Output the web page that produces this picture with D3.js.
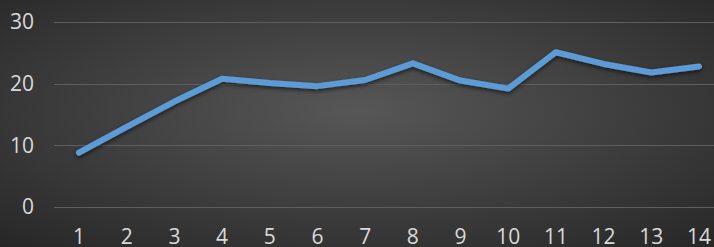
<!DOCTYPE html>
<html>
<head>
<meta charset="utf-8">
<script src="https://cdn.jsdelivr.net/npm/d3@7"></script>
<style>
  html, body { margin: 0; padding: 0; background: #333; }
  svg { display: block; }
</style>
</head>
<body>
<div id="chart"></div>
<script>
var width = 714, height = 247;

var categories = [1, 2, 3, 4, 5, 6, 7, 8, 9, 10, 11, 12, 13, 14];
var values = [8.8, 13, 17.1, 20.8, 20.1, 19.6, 20.6, 23.3, 20.5, 19.2, 25.1, 23.2, 21.8, 22.8];
var yTicks = [0, 10, 20, 30];

var svg = d3.select("#chart")
  .append("svg")
  .attr("width", width)
  .attr("height", height);

var defs = svg.append("defs");
var grad = defs.append("radialGradient")
  .attr("id", "bg")
  .attr("cx", "50%").attr("cy", "45%")
  .attr("r", "75%");
grad.append("stop").attr("offset", "0%").attr("stop-color", "#575757");
grad.append("stop").attr("offset", "100%").attr("stop-color", "#262626");

var shadow = defs.append("filter").attr("id", "shadow")
  .attr("x", "-5%").attr("y", "-20%").attr("width", "110%").attr("height", "140%");
shadow.append("feDropShadow")
  .attr("dx", 0).attr("dy", 2)
  .attr("stdDeviation", 2)
  .attr("flood-color", "#000")
  .attr("flood-opacity", 0.6);

svg.append("rect")
  .attr("width", width)
  .attr("height", height)
  .attr("fill", "url(#bg)");

var x = d3.scalePoint()
  .domain(categories)
  .range([79, 699]);

var y = d3.scaleLinear()
  .domain([0, 30])
  .range([207, 22]);

// gridlines
svg.append("g")
  .selectAll("line")
  .data(yTicks)
  .enter().append("line")
  .attr("x1", 54)
  .attr("x2", width)
  .attr("y1", function(d) { return Math.round(y(d)) + 0.5; })
  .attr("y2", function(d) { return Math.round(y(d)) + 0.5; })
  .style("stroke", "#5e5e5e")
  .style("stroke-width", 1);

// y labels
svg.append("g")
  .selectAll("text")
  .data(yTicks)
  .enter().append("text")
  .attr("x", 34)
  .attr("y", function(d) { return y(d); })
  .attr("dy", "0.35em")
  .attr("text-anchor", "end")
  .style("font-family", "'Open Sans', sans-serif")
  .style("font-size", "21px")
  .style("fill", "#d9d9d9")
  .text(function(d) { return d; });

// x labels
svg.append("g")
  .selectAll("text")
  .data(categories)
  .enter().append("text")
  .attr("x", function(d) { return x(d); })
  .attr("y", 244)
  .attr("text-anchor", "middle")
  .style("font-family", "'Open Sans', sans-serif")
  .style("font-size", "21px")
  .style("fill", "#d9d9d9")
  .text(function(d) { return d; });

var line = d3.line()
  .x(function(d, i) { return x(categories[i]); })
  .y(function(d) { return y(d); });

svg.append("path")
  .datum(values)
  .attr("d", line)
  .attr("fill", "none")
  .attr("filter", "url(#shadow)")
  .style("stroke", "#5b9bd5")
  .style("stroke-width", 6)
  .style("stroke-linejoin", "round")
  .style("stroke-linecap", "round");
</script>
</body>
</html>
